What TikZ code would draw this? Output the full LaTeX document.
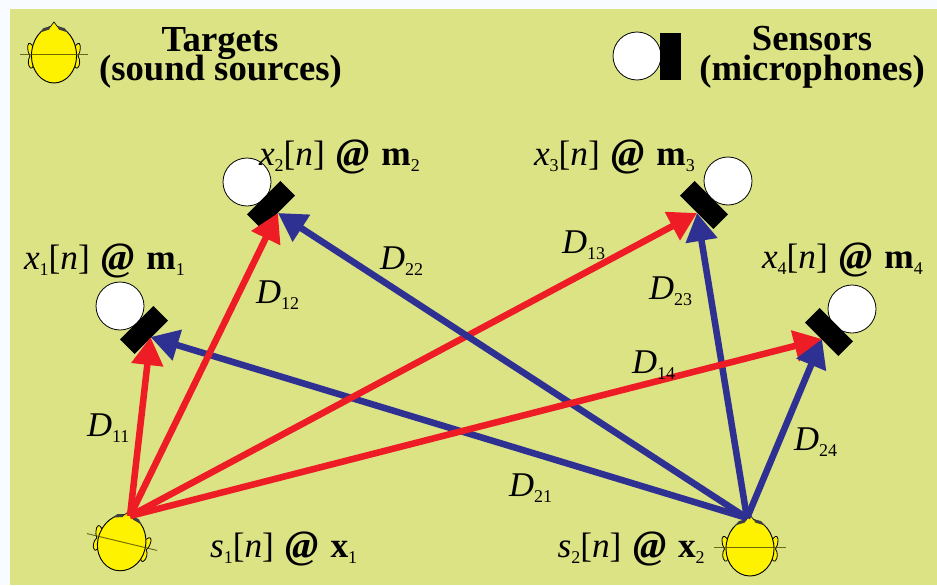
\documentclass[tikz,border=0pt]{standalone}
\usepackage{fontspec}
\setmainfont{Liberation Serif}
\usetikzlibrary{arrows.meta}
\definecolor{panel}{HTML}{DCE385}
\definecolor{page}{HTML}{F8FBFF}
\definecolor{hred}{HTML}{EE1C25}
\definecolor{hblue}{HTML}{2E3192}
\definecolor{hyellow}{HTML}{FFF200}
\newcommand{\Dlab}[1]{\fontsize{26}{26}\selectfont\textit{D}\raisebox{-5pt}{\fontsize{13.5}{13.5}\selectfont #1}}
\newcommand{\Slab}[4]{\fontsize{26.5}{26.5}\selectfont\textit{#1}\raisebox{-5pt}{\fontsize{13.5}{13.5}\selectfont #2}[\textit{n}]\hspace{.33em}\raisebox{-1.2pt}{\fontsize{30}{30}\selectfont\textbf{\textit{@}}}\hspace{.33em}\textbf{#3}\raisebox{-5pt}{\fontsize{13.5}{13.5}\selectfont #4}}
\tikzset{
  every node/.style={inner sep=0pt,outer sep=0pt},
  title/.style={anchor=base,font=\fontsize{27.5}{27.5}\selectfont\bfseries,text=black},
  mlabel/.style={anchor=base west,text=black},
  redarrow/.style={draw=hred,line width=4.9pt,-{Triangle[length=21pt,width=23pt,fill=hred]}},
  bluearrow/.style={draw=hblue,line width=4.9pt,-{Triangle[length=21pt,width=23pt,fill=hblue]}},
  micball/.style={circle,draw=black,line width=0.6pt,fill=white,minimum size=36pt},
  micbar/.style={rectangle,fill=black,minimum width=35.5pt,minimum height=15.5pt},
  head/.pic={
    \path[draw=black,line width=0.6pt,fill=hyellow] (-22,-7) .. controls (-24,-10) and (-27,-13) .. (-28,-8) .. controls (-28,-3) and (-27,0) .. (-25.5,2) .. controls (-28,5) and (-28,12) .. (-25,14) .. controls (-23,15) and (-22,12) .. (-21,9) -- cycle;
    \path[draw=black,line width=0.6pt,fill=hyellow] (22,-7) .. controls (24,-10) and (27,-13) .. (28,-8) .. controls (28,-3) and (27,0) .. (25.5,2) .. controls (28,5) and (28,12) .. (25,14) .. controls (23,15) and (22,12) .. (21,9) -- cycle;
    \path[draw=black,line width=0.7pt,fill=hyellow] (0,-28) .. controls (-14,-27) and (-24,-14) .. (-24,2) .. controls (-24,17) and (-13,29) .. (0,29) .. controls (13,29) and (24,17) .. (24,2) .. controls (24,-14) and (14,-27) .. (0,-28) -- cycle;
    \path[fill=hyellow,draw=black,line width=0.5pt] (-4,-27) -- (0,-32) -- (4,-27);
    \path[fill=black!75] (-15,-21.5) -- (-11,-26) -- (-4,-27.5) -- (-5,-24.5) -- (-10,-23) -- cycle;
    \path[fill=black!75] (15,-21.5) -- (11,-26) -- (4,-27.5) -- (5,-24.5) -- (10,-23) -- cycle;
    \path[draw=black!70!hyellow,line width=0.7pt,opacity=.8] (-36,0) -- (36,0);
  }
}
\begin{document}
\begin{tikzpicture}[x=0.75pt,y=-0.75pt]
\useasboundingbox (0,0) rectangle (937,585);
\fill[page] (0,0) rectangle (937,585);
\fill[panel] (10,9) rectangle (937,585);
% legend
\pic at (54,54) [xscale=.94] {head};
\node[title] (ttarget) at (220,51) {Targets};
\node[title] (ttargetb) at (220.5,80) {(sound sources)};
\node[title] (tsensor) at (812,50.5) {Sensors};
\node[title] (tsensorb) at (812,80) {(microphones)};
\node[micball] (lball) at (637,56) {};
\node[micbar,rotate=90] (lbar) at (670.5,56.5) {};
% heads
\pic at (122,542) [rotate=-13.5] {head};
\pic at (750,547) {head};
\coordinate (s1) at (130,516);
\coordinate (s2) at (747,518);
% microphones
\node[micball] (b1) at (120,306) {};
\node[micbar,rotate=45] (r1) at (144,330) {};
\node[micball] (b2) at (247,182) {};
\node[micbar,rotate=45] (r2) at (271,205) {};
\node[micball] (b3) at (728,181) {};
\node[micbar,rotate=-45] (r3) at (704,205) {};
\node[micball] (b4) at (852,309) {};
\node[micbar,rotate=-45] (r4) at (829,332) {};
\coordinate (p11) at (150.5,337);
\coordinate (p21) at (150.5,337);
\coordinate (p12) at (278,213);
\coordinate (p22) at (278,213);
\coordinate (p13) at (697,213);
\coordinate (p23) at (697,213);
\coordinate (p14) at (822,339);
\coordinate (p24) at (822,339);
% connectors
\draw[bluearrow] (s2) -- (p21);
\draw[redarrow] (s1) -- (p11);
\draw[redarrow] (s1) -- (p12);
\draw[redarrow] (s1) -- (p13);
\draw[bluearrow] (s2) -- (p22);
\draw[bluearrow] (s2) -- (p23);
\draw[redarrow] (s1) -- (p14);
\draw[bluearrow] (s2) -- (p24);
% labels
\node[mlabel] (lx1) at (24,269) {\Slab{x}{1}{m}{1}};
\node[mlabel] (lx2) at (259,165) {\Slab{x}{2}{m}{2}};
\node[mlabel] (lx3) at (534,165) {\Slab{x}{3}{m}{3}};
\node[mlabel] (lx4) at (762,268) {\Slab{x}{4}{m}{4}};
\node[mlabel] (ls1) at (210,557) {\Slab{s}{1}{x}{1}};
\node[mlabel] (ls2) at (557.5,557) {\Slab{s}{2}{x}{2}};
\node[mlabel] (d11) at (87,436) {\Dlab{11}};
\node[mlabel] (d12) at (256,303) {\Dlab{12}};
\node[mlabel] (d13) at (562,253) {\Dlab{13}};
\node[mlabel] (d14) at (632,373) {\Dlab{14}};
\node[mlabel] (d21) at (509,496) {\Dlab{21}};
\node[mlabel] (d22) at (380,269) {\Dlab{22}};
\node[mlabel] (d23) at (649,299) {\Dlab{23}};
\node[mlabel] (d24) at (794,450) {\Dlab{24}};
\end{tikzpicture}
\end{document}
